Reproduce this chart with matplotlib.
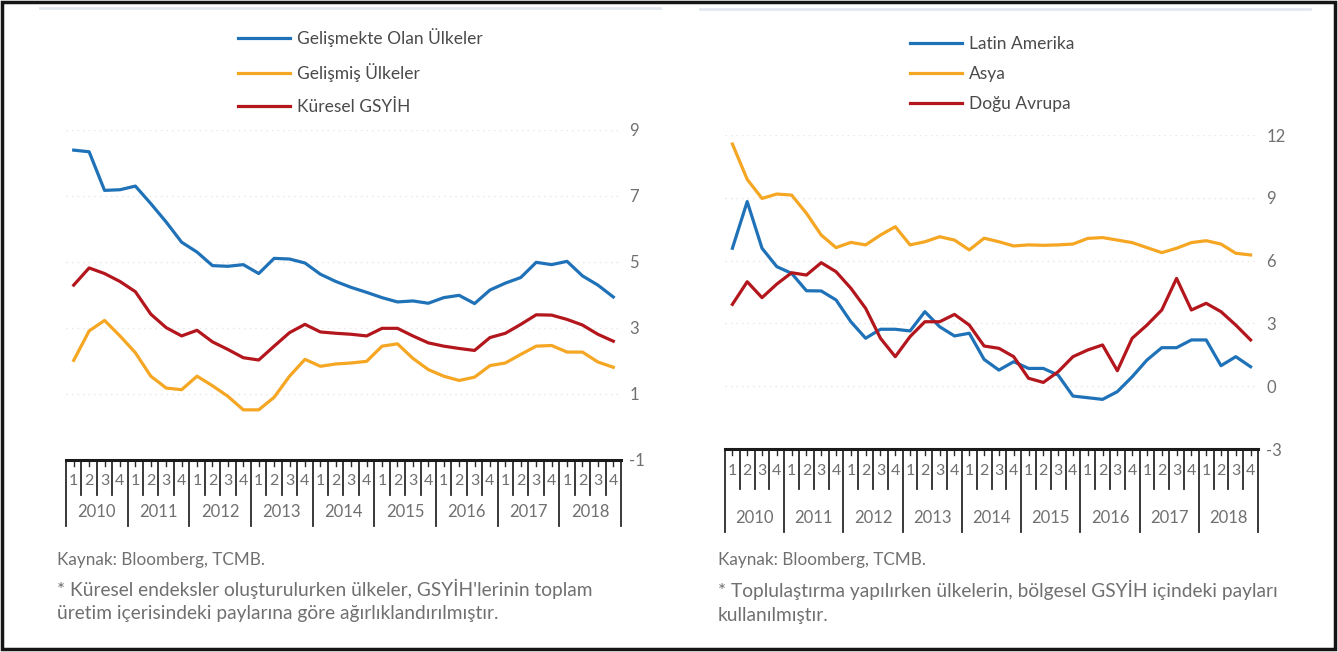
import matplotlib
matplotlib.use("Agg")
import matplotlib.pyplot as plt
from matplotlib.lines import Line2D
from matplotlib.patches import Rectangle

W, H = 1338, 652

years = ["2010", "2011", "2012", "2013", "2014", "2015", "2016", "2017", "2018"]
quarters = ["1", "2", "3", "4"]

# left panel: world GDP growth (%)
gelismekte = [8.39, 8.34, 7.17, 7.19, 7.30, 6.77, 6.21, 5.60, 5.30, 4.89, 4.87, 4.92,
              4.65, 5.11, 5.09, 4.97, 4.63, 4.41, 4.23, 4.08, 3.92, 3.79, 3.82, 3.75,
              3.92, 3.99, 3.74, 4.15, 4.36, 4.53, 4.99, 4.92, 5.02, 4.58, 4.30, 3.94]
gelismis = [2.02, 2.91, 3.23, 2.76, 2.25, 1.54, 1.18, 1.13, 1.54, 1.25, 0.93, 0.52,
            0.52, 0.90, 1.54, 2.05, 1.84, 1.91, 1.94, 1.99, 2.45, 2.52, 2.08, 1.74,
            1.54, 1.41, 1.51, 1.86, 1.94, 2.20, 2.45, 2.47, 2.27, 2.27, 1.97, 1.81]
kuresel = [4.30, 4.82, 4.65, 4.41, 4.10, 3.42, 3.01, 2.76, 2.93, 2.58, 2.35, 2.10,
           2.03, 2.45, 2.86, 3.11, 2.88, 2.84, 2.81, 2.76, 2.99, 2.99, 2.76, 2.55,
           2.45, 2.38, 2.32, 2.71, 2.84, 3.11, 3.40, 3.39, 3.26, 3.09, 2.81, 2.60]

# right panel: emerging regions (%)
latin = [6.59, 8.82, 6.59, 5.71, 5.39, 4.56, 4.55, 4.12, 3.08, 2.29, 2.72, 2.72,
         2.64, 3.56, 2.84, 2.40, 2.53, 1.28, 0.77, 1.17, 0.85, 0.85, 0.53, -0.47,
         -0.55, -0.63, -0.26, 0.45, 1.25, 1.84, 1.84, 2.21, 2.21, 0.98, 1.41, 0.93]
asya = [11.57, 9.88, 8.97, 9.18, 9.13, 8.26, 7.22, 6.62, 6.87, 6.75, 7.22, 7.62,
        6.75, 6.90, 7.14, 6.98, 6.51, 7.07, 6.90, 6.70, 6.75, 6.73, 6.75, 6.79,
        7.06, 7.10, 6.98, 6.86, 6.62, 6.38, 6.59, 6.86, 6.95, 6.79, 6.35, 6.27]
dogu = [3.91, 4.99, 4.23, 4.88, 5.42, 5.31, 5.90, 5.47, 4.68, 3.72, 2.29, 1.41,
        2.37, 3.08, 3.08, 3.43, 2.92, 1.92, 1.81, 1.41, 0.38, 0.18, 0.69, 1.41,
        1.73, 1.97, 0.74, 2.29, 2.92, 3.64, 5.15, 3.64, 3.96, 3.56, 2.92, 2.21]

left_labels = ["Gelişmekte Olan Ülkeler", "Gelişmiş Ülkeler", "Küresel GSYİH"]
right_labels = ["Latin Amerika", "Asya", "Doğu Avrupa"]

left_notes = ["Kaynak: Bloomberg, TCMB.",
              "* Küresel endeksler oluşturulurken ülkeler, GSYİH'lerinin toplam",
              "üretim içerisindeki paylarına göre ağırlıklandırılmıştır."]
right_notes = ["Kaynak: Bloomberg, TCMB.",
               "* Toplulaştırma yapılırken ülkelerin, bölgesel GSYİH içindeki payları",
               "kullanılmıştır."]

BLUE = "#1f72b8"
ORANGE = "#f5a623"
RED = "#b3161c"
TXT = "#4a4a4a"
GRAY = "#707070"

plt.rcParams["font.family"] = ["Lato", "DejaVu Sans"]
plt.rcParams["axes.unicode_minus"] = False

fig = plt.figure(figsize=(W / 100, H / 100), dpi=100)


def px_axes(x0, y0, x1, y1):
    return fig.add_axes([x0 / W, 1 - y1 / H, (x1 - x0) / W, (y1 - y0) / H])


def panel(box, series, labels, ylim, yticks, q_off, q_line, y_off, y_line, leg_xy, leg_gap):
    ax = px_axes(*box)
    h = box[3] - box[1]
    n = len(series[0][0])
    x = list(range(n))
    handles = []
    for vals, color in series:
        ln, = ax.plot(x, vals, color=color, lw=2.3, solid_joinstyle="round")
        handles.append(ln)
    ax.set_xlim(-0.5, n - 0.5)
    ax.set_ylim(*ylim)
    ax.set_yticks(yticks)
    ax.yaxis.tick_right()
    ax.tick_params(axis="y", length=0, pad=6, labelsize=12, labelcolor=GRAY)
    ax.set_xticks([])
    for s in ["top", "left", "right"]:
        ax.spines[s].set_visible(False)
    ax.spines["bottom"].set_linewidth(2.2)
    ax.spines["bottom"].set_color("#1a1a1a")
    ax.grid(axis="y", color="#e6e6e6", ls=(0, (1, 3)), lw=1)
    ax.set_axisbelow(True)

    tr = ax.get_xaxis_transform()
    f = lambda p: -p / h
    for i in range(n + 1):
        xb = i - 0.5
        depth = y_line if i % 4 == 0 else q_line
        ax.plot([xb, xb], [0, f(depth)], transform=tr, color="#2a2a2a",
                lw=1.3, clip_on=False)
    for i in range(n):
        ax.plot([i, i], [0, f(6)], transform=tr, color="#2a2a2a", lw=1, clip_on=False)
        ax.text(i, f(q_off), quarters[i % 4], transform=tr, ha="center", va="center",
                fontsize=11.5, color=GRAY)
    for k, yr in enumerate(years):
        ax.text(4 * k + 1.5, f(y_off), yr, transform=tr, ha="center", va="center",
                fontsize=12, color=GRAY)

    fig.legend(handles, labels, loc="upper left",
               bbox_to_anchor=(leg_xy[0] / W, 1 - leg_xy[1] / H),
               frameon=False, fontsize=12.5, handlelength=3.0, handletextpad=0.4,
               labelspacing=leg_gap, borderpad=0, borderaxespad=0, labelcolor=TXT)
    return ax


panel((66, 130, 621, 460),
      [(gelismekte, BLUE), (gelismis, ORANGE), (kuresel, RED)], left_labels,
      (-1, 9), [-1, 1, 3, 5, 7, 9], 21, 35, 52, 66, (238, 28), 0.95)

panel((725, 135, 1258, 449),
      [(latin, BLUE), (asya, ORANGE), (dogu, RED)], right_labels,
      (-3, 12), [-3, 0, 3, 6, 9, 12], 22, 40, 69, 83, (910, 36), 0.82)

for i, t in enumerate(left_notes):
    fig.text(57 / W, 1 - [560, 589, 614][i] / H, t, fontsize=12.3 if i == 0 else 13.8,
             color=GRAY, va="center")
for i, t in enumerate(right_notes):
    fig.text(718 / W, 1 - [560, 590, 616][i] / H, t, fontsize=12.3 if i == 0 else 13.8,
             color=GRAY, va="center")

# faint cut-off header remains and frame
fig.add_artist(Line2D([40 / W, 660 / W], [1 - 8 / H] * 2, color="#e3e8ef", lw=2))
fig.add_artist(Line2D([700 / W, 1310 / W], [1 - 9 / H] * 2, color="#e3e8ef", lw=2))
fig.add_artist(Rectangle((2 / W, 3 / H), 1 - 5 / W, 1 - 5 / H, transform=fig.transFigure,
                         fill=False, lw=2.5, ec="#151515"))

fig.savefig("out.png", dpi=100)
